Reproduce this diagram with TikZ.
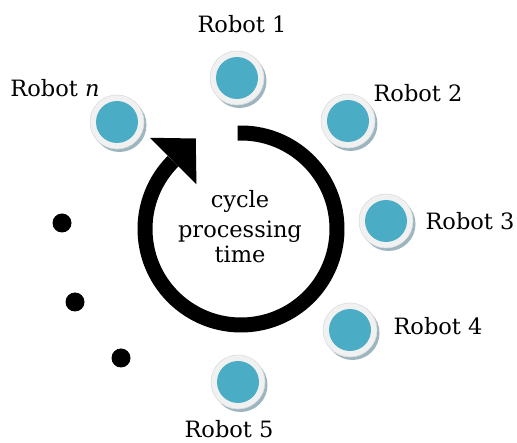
\documentclass[tikz,border=0pt]{standalone}
\usepackage{fontspec}
\setmainfont{DejaVu Serif}
\usetikzlibrary{shadows,calc}
\definecolor{robotblue}{HTML}{4BACC6}
\definecolor{ringcol}{HTML}{F1F1F1}
\definecolor{ringedge}{HTML}{D9DDDF}
\definecolor{shadowcol}{HTML}{9DB5BE}
\tikzset{
  robot/.style={circle, minimum size=54pt, inner sep=0pt, fill=ringcol,
    draw=ringedge, line width=0.6pt,
    drop shadow={shadow xshift=2.5pt, shadow yshift=-3pt, fill=shadowcol, opacity=1},
    path picture={\fill[robotblue] (path picture bounding box.center) circle[radius=21pt];}},
  lbl/.style={anchor=base, inner sep=0pt, font=\fontsize{22.5}{27}\selectfont},
  dotmark/.style={circle, fill=black, minimum size=19pt, inner sep=0pt},
  cyclering/.style={line width=15pt, line cap=butt, black}
}
\begin{document}
\begin{tikzpicture}[x=1pt,y=1pt]
\useasboundingbox (0,0) rectangle (517,442);
% cycle arrow
\coordinate (c) at (241,213);
\draw[cyclering] (c) ++(92:96) arc[start angle=92, end angle=-225, radius=96];
\coordinate (p) at ($(c)+(135:96)$);
\fill[black] ($(p)+(135:33)$) -- ($(p)+(45:32)$) -- ($(p)+(-45:33)$) -- cycle;
\node[lbl] (t1) at (240,234) {cycle};
\node[lbl] (t2) at (240,204) {processing};
\node[lbl] (t3) at (240,179) {time};
% robots
\node[robot] (r1) at (237,364) {};
\node[robot] (r2) at (348,321) {};
\node[robot] (r3) at (386,221) {};
\node[robot] (r4) at (350,112) {};
\node[robot] (r5) at (238,60) {};
\node[robot] (rn) at (117,320) {};
% labels
\node[lbl] (l1) at (242,409) {Robot 1};
\node[lbl] (l2) at (418,340) {Robot 2};
\node[lbl] (l3) at (470,212) {Robot 3};
\node[lbl] (l4) at (438,107) {Robot 4};
\node[lbl] (l5) at (229,5) {Robot 5};
\node[lbl] (ln) at (55,345) {Robot \textit{n}};
% dots
\node[dotmark] (d1) at (62,219) {};
\node[dotmark] (d2) at (75,140) {};
\node[dotmark] (d3) at (121,84) {};
\end{tikzpicture}
\end{document}
